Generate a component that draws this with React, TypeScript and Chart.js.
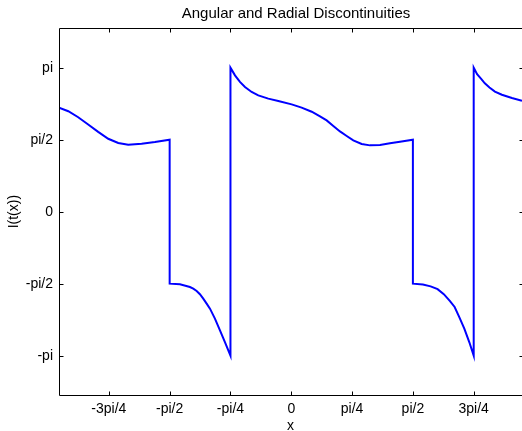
import React, { useEffect, useRef } from "react";
import { Chart, registerables } from "chart.js";

Chart.register(...registerables);

const chartTitle = "Angular and Radial Discontinuities";
const xAxisLabel = "x";
const yAxisLabel = "I(t(x))";

const xTickValues = [-2.3562, -1.5708, -0.7854, 0, 0.7854, 1.5708, 2.3562];
const xTickLabels = ["-3pi/4", "-pi/2", "-pi/4", "0", "pi/4", "pi/2", "3pi/4"];
const yTickValues = [-3.1416, -1.5708, 0, 1.5708, 3.1416];
const yTickLabels = ["-pi", "-pi/2", "0", "pi/2", "pi"];

const xValues = [
  -3.0, -2.88, -2.752, -2.623, -2.494, -2.364, -2.235, -2.106, -1.933, -1.761, -1.5708,
  -1.5708, -1.438, -1.309, -1.266, -1.222, -1.18, -1.137, -1.093, -1.05, -0.986, -0.921, -0.857, -0.7854,
  -0.7854, -0.727, -0.663, -0.598, -0.512, -0.426, -0.297, -0.168, 0.005, 0.134, 0.264, 0.371, 0.457, 0.543, 0.629,
  0.716, 0.801, 0.909, 1.017, 1.146, 1.275, 1.404, 1.5708,
  1.5708, 1.7, 1.8, 1.89, 1.97, 2.05, 2.11, 2.17, 2.235, 2.3, 2.3562,
  2.3562, 2.4, 2.45, 2.5, 2.56, 2.63, 2.72, 2.85, 2.98,
];
const yValues = [
  2.27, 2.19, 2.06, 1.9, 1.74, 1.59, 1.497, 1.46, 1.483, 1.518, 1.5708,
  -1.5708, -1.586, -1.645, -1.68, -1.732, -1.8, -1.898, -2.007, -2.116, -2.334, -2.589, -2.845, -3.1416,
  3.1416, 2.973, 2.83, 2.72, 2.61, 2.537, 2.465, 2.413, 2.34, 2.27, 2.18, 2.08, 1.99, 1.87, 1.75,
  1.65, 1.555, 1.475, 1.446, 1.453, 1.49, 1.527, 1.5708,
  -1.5708, -1.59, -1.63, -1.69, -1.8, -1.95, -2.08, -2.3, -2.55, -2.85, -3.1416,
  3.1416, 3.0, 2.9, 2.8, 2.71, 2.62, 2.55, 2.48, 2.42,
];

const xMin = -3;
const xMax = 2.98;
const yMin = -4;
const yMax = 4;

const FONT_FAMILY = "'Liberation Sans', Arial, sans-serif";

const framePlugin = {
  id: "frame",
  afterDraw(chart: any) {
    const { ctx, chartArea } = chart;
    const { left, right, top, bottom } = chartArea;
    const xs = chart.scales.x;
    const ys = chart.scales.y;
    ctx.save();
    ctx.strokeStyle = "#000";
    ctx.lineWidth = 1;
    ctx.beginPath();
    const L = Math.round(left) + 0.5;
    const B = Math.round(bottom) + 0.5;
    const T = Math.round(top) + 0.5;
    ctx.moveTo(L, T);
    ctx.lineTo(L, B);
    ctx.lineTo(right + 2, B);
    ctx.moveTo(L, T);
    ctx.lineTo(right + 2, T);
    const tl = 4;
    xTickValues.forEach((v) => {
      const px = Math.round(xs.getPixelForValue(v)) + 0.5;
      ctx.moveTo(px, B);
      ctx.lineTo(px, B - tl);
      ctx.moveTo(px, T);
      ctx.lineTo(px, T + tl);
    });
    yTickValues.forEach((v) => {
      const py = Math.round(ys.getPixelForValue(v)) + 0.5;
      ctx.moveTo(L, py);
      ctx.lineTo(L + tl, py);
      ctx.moveTo(right + 1.5, py);
      ctx.lineTo(right + 1.5 - tl, py);
    });
    ctx.stroke();
    // title, centred over the full (uncropped) plot box
    ctx.fillStyle = "#000";
    ctx.font = `15px ${FONT_FAMILY}`;
    ctx.textAlign = "center";
    ctx.textBaseline = "middle";
    ctx.fillText(chartTitle, 296, 14);
    ctx.restore();
  },
};

export default function App() {
  const canvasRef = useRef<HTMLCanvasElement | null>(null);

  useEffect(() => {
    if (!canvasRef.current) return;
    const points = xValues.map((x, i) => ({ x, y: yValues[i] }));
    const font = { family: FONT_FAMILY, size: 14 };
    const chart = new Chart(canvasRef.current, {
      type: "line",
      data: {
        datasets: [
          {
            data: points,
            borderColor: "#0000ff",
            borderWidth: 2,
            pointRadius: 0,
            tension: 0,
            fill: false,
          },
        ],
      },
      options: {
        animation: false,
        responsive: false,
        maintainAspectRatio: false,
        layout: { padding: { top: 28.3, left: 0, right: 0, bottom: 0 } },
        plugins: {
          legend: { display: false },
          tooltip: { enabled: false },
          title: { display: false },
        },
        scales: {
          x: {
            type: "linear",
            min: xMin,
            max: xMax,
            grid: { display: false, drawTicks: false },
            border: { display: false },
            afterBuildTicks: (scale: any) => {
              scale.ticks = xTickValues.map((v) => ({ value: v }));
            },
            afterFit: (scale: any) => {
              scale.height = 36;
            },
            ticks: {
              color: "#000",
              font,
              padding: 6,
              maxRotation: 0,
              autoSkip: false,
              callback: (_v: any, i: number) => xTickLabels[i],
            },
            title: {
              display: true,
              text: xAxisLabel,
              color: "#000",
              font: { ...font, lineHeight: 0.72 },
              padding: { top: 0, bottom: 0 },
            },
          },
          y: {
            type: "linear",
            min: yMin,
            max: yMax,
            grid: { display: false, drawTicks: false },
            border: { display: false },
            afterBuildTicks: (scale: any) => {
              scale.ticks = yTickValues.map((v) => ({ value: v }));
            },
            afterFit: (scale: any) => {
              scale.width = 59;
            },
            ticks: {
              color: "#000",
              font,
              padding: 6,
              autoSkip: false,
              callback: (_v: any, i: number) => yTickLabels[i],
            },
            title: {
              display: true,
              text: yAxisLabel,
              color: "#000",
              font: { ...font, lineHeight: 1.2 },
              padding: { top: 5.6, bottom: 0 },
            },
          },
        },
      },
      plugins: [framePlugin],
    });
    return () => chart.destroy();
  }, []);

  return (
    <div style={{ position: "fixed", left: 0, top: 0, width: 522, height: 431, background: "#fff" }}>
      <canvas ref={canvasRef} width={522} height={431} style={{ display: "block", width: 522, height: 431 }} />
    </div>
  );
}
